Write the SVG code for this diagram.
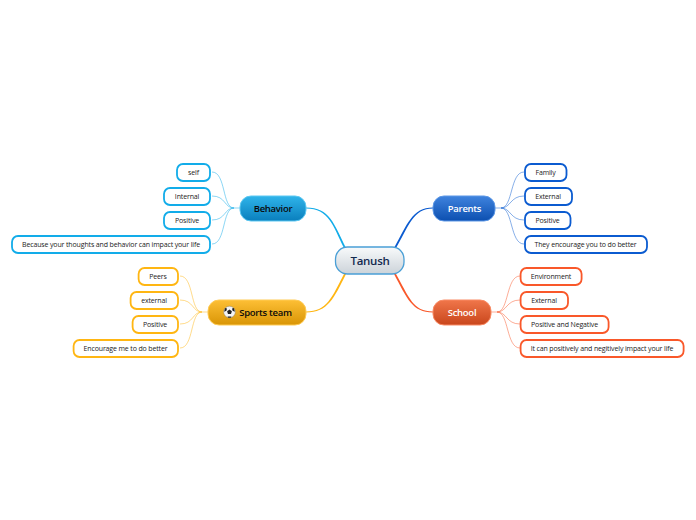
<svg xmlns="http://www.w3.org/2000/svg" width="696" height="520" viewBox="0 0 696 520">
<defs>
<linearGradient id="gB" x1="0" y1="0" x2="0" y2="1"><stop offset="0" stop-color="#2fb4ea"/><stop offset="1" stop-color="#0a7fbd"/></linearGradient>
<linearGradient id="gP" x1="0" y1="0" x2="0" y2="1"><stop offset="0" stop-color="#3f83de"/><stop offset="1" stop-color="#0c4fb0"/></linearGradient>
<linearGradient id="gS" x1="0" y1="0" x2="0" y2="1"><stop offset="0" stop-color="#f0764a"/><stop offset="1" stop-color="#c9461c"/></linearGradient>
<linearGradient id="gT" x1="0" y1="0" x2="0" y2="1"><stop offset="0" stop-color="#fdbf35"/><stop offset="1" stop-color="#d99505"/></linearGradient>
<linearGradient id="gC" x1="0" y1="0" x2="0" y2="1"><stop offset="0" stop-color="#f8fafb"/><stop offset="1" stop-color="#ccd3d9"/></linearGradient>
</defs>
<style>
text{font-family:"Open Sans","Noto Sans","DejaVu Sans",sans-serif;text-anchor:middle}
.leaf{font-size:7px;letter-spacing:-.14px;fill:#222}
.main{font-size:9.500px;font-weight:600;letter-spacing:-.28px}
.l{fill:#fff;stroke-width:1.800}
.c{fill:none}
.b{stroke:#12ace9}.p{stroke:#0b5bd0}.s{stroke:#f9582a}.t{stroke:#ffb612}
.thin{stroke-width:.9;opacity:.55}
.fb{fill:#12ace9}.fp{fill:#0b5bd0}.fs{fill:#f9582a}.ft{fill:#ffb612}
</style>
<g id="connectors" class="c">
<path class="fb" d="M346 248C334 224 330 207.500 306 207.500V208.500C329 208.500 333 226 344 248Z"/>
<path class="fp" d="M394 248C407 225 412 207.500 433 207.500V208.500C413 208.500 409 226 396 248Z"/>
<path class="fs" d="M394 274C407 298 412 312.500 433 312.500V311.500C413 311.500 409 297 396 274Z"/>
<path class="ft" d="M346 274C334 298 328 312.500 306 312.500V311.500C327 311.500 332 297 344 274Z"/>
<path class="b thin" d="M240 208H234C222 208 226 172 212 172M234 208C224 208 226 196 212 196M234 208C224 208 226 220 212 220M234 208C222 208 226 244 212 244"/>
<path class="p thin" d="M495 208H501C513 208 510 172 524 172M501 208C511 208 510 196 524 196M501 208C511 208 510 220 524 220M501 208C513 208 510 244 524 244"/>
<path class="s thin" d="M491 312H497C509 312 506 276 520 276M497 312C507 312 506 300 520 300M497 312C507 312 506 324 520 324M497 312C509 312 506 348 520 348"/>
<path class="t thin" d="M208 312H202C190 312 194 276 180 276M202 312C192 312 194 300 180 300M202 312C192 312 194 324 180 324M202 312C190 312 194 348 180 348"/>
</g>
<g id="center"><rect x="335.500" y="247" width="68.500" height="27" rx="12" fill="url(#gC)" stroke="#4a9fd6" stroke-width="1.300"/><text x="370" y="265" font-size="11.500" font-weight="600" letter-spacing="-.3" fill="#13294f">Tanush</text></g>
<g id="behavior"><rect x="240" y="196" width="66" height="25" rx="11" fill="url(#gB)" stroke="#5cc8f2"/><text class="main" x="273" y="212" fill="#0a0a0a">Behavior</text></g>
<g id="parents"><rect x="433" y="196" width="62" height="25" rx="11" fill="url(#gP)" stroke="#5c97e6"/><text class="main" x="464.500" y="212" fill="#fff">Parents</text></g>
<g id="school"><rect x="433" y="300" width="58" height="25" rx="11" fill="url(#gS)" stroke="#f98a64"/><text class="main" x="462" y="316" fill="#fff">School</text></g>
<g id="sports"><rect x="208" y="300" width="98" height="25" rx="11" fill="url(#gT)" stroke="#ffcb55"/><circle cx="229.500" cy="312" r="5.800" fill="#f4f4f4" stroke="#777" stroke-width=".4"/><path d="M229.500 309.500l2.400 1.700-.9 2.800h-3l-.9-2.800zM225 308l2 .6-.6 2.200-2.200.9zM234 308l-2 .6.600 2.200 2.200.9zM227.500 316.500h4l-.8 1.300h-2.400z" fill="#222"/><text class="main" x="265.500" y="316" fill="#0a0a0a">Sports team</text></g>
<g id="b1"><rect class="l b" x="177" y="164" width="33" height="17" rx="6"/><text class="leaf" x="193.500" y="175">self</text></g>
<g id="b2"><rect class="l b" x="164" y="188" width="46" height="17" rx="6"/><text class="leaf" x="187" y="199">Internal</text></g>
<g id="b3"><rect class="l b" x="164" y="212" width="46" height="17" rx="6"/><text class="leaf" x="187" y="223">Positive</text></g>
<g id="b4"><rect class="l b" x="12" y="236" width="198" height="17" rx="6"/><text class="leaf" x="111" y="247">Because your thoughts and behavior can impact your life</text></g>
<g id="p1"><rect class="l p" x="525" y="164" width="41.500" height="17" rx="6"/><text class="leaf" x="545.500" y="175">Family</text></g>
<g id="p2"><rect class="l p" x="525" y="188" width="47" height="17" rx="6"/><text class="leaf" x="548" y="199">External</text></g>
<g id="p3"><rect class="l p" x="525" y="212" width="45.500" height="17" rx="6"/><text class="leaf" x="547.500" y="223">Positive</text></g>
<g id="p4"><rect class="l p" x="525" y="236" width="122" height="17" rx="6"/><text class="leaf" x="585.500" y="247">They encourage you to do better</text></g>
<g id="s1"><rect class="l s" x="520.600" y="268" width="61" height="17" rx="6"/><text class="leaf" x="551" y="279">Environment</text></g>
<g id="s2"><rect class="l s" x="520.600" y="292" width="47.400" height="17" rx="6"/><text class="leaf" x="544" y="303">External</text></g>
<g id="s3"><rect class="l s" x="520.600" y="316" width="88" height="17" rx="6"/><text class="leaf" x="564.500" y="327">Positive and Negative</text></g>
<g id="s4"><rect class="l s" x="520.600" y="340" width="163" height="17" rx="6"/><text class="leaf" x="602" y="351">It can positively and negitively impact your life</text></g>
<g id="t1"><rect class="l t" x="138.600" y="268" width="39.400" height="17" rx="6"/><text class="leaf" x="158" y="279">Peers</text></g>
<g id="t2"><rect class="l t" x="130.600" y="292" width="47.400" height="17" rx="6"/><text class="leaf" x="154" y="303">external</text></g>
<g id="t3"><rect class="l t" x="132.600" y="316" width="45.400" height="17" rx="6"/><text class="leaf" x="155" y="327">Positive</text></g>
<g id="t4"><rect class="l t" x="73.600" y="340" width="104.400" height="17" rx="6"/><text class="leaf" x="125.500" y="351">Encourage me to do better</text></g>
</svg>
